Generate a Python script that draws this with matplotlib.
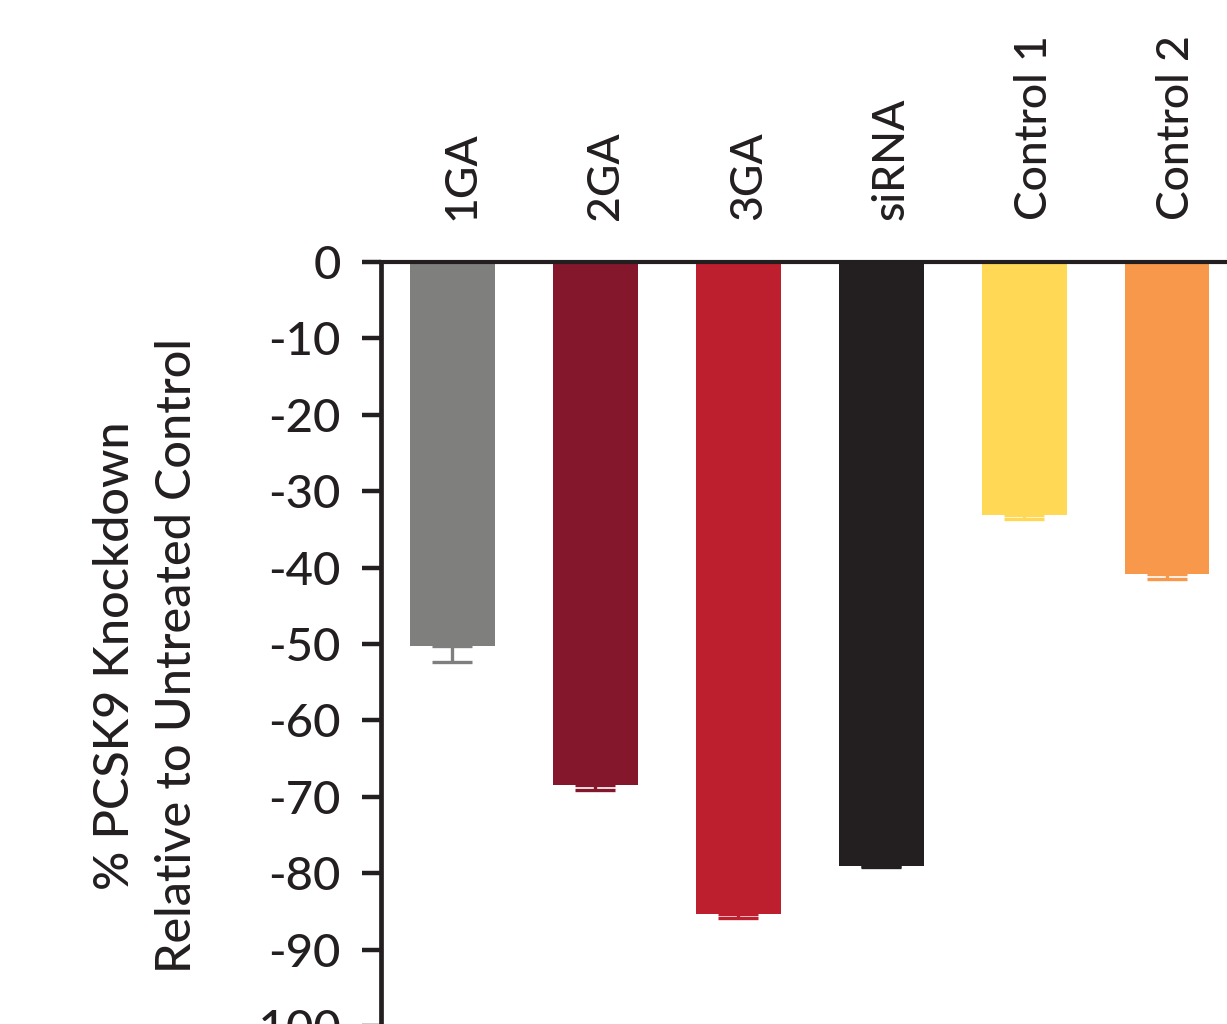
import matplotlib
matplotlib.use("Agg")
import matplotlib.pyplot as plt
import matplotlib.transforms as mtransforms

plt.rcParams["font.family"] = ["Lato", "DejaVu Sans"]

categories = ["1GA", "2GA", "3GA", "siRNA", "Control 1", "Control 2"]
knockdown = [-50.3, -68.5, -85.3, -79.1, -33.1, -40.8]
sem = [2.0, 0.6, 0.5, 0.1, 0.6, 0.7]
colors = ["#7f807e", "#85172d", "#be1f2e", "#231f20", "#ffd956", "#f7984a"]
yticks = [0, -10, -20, -30, -40, -50, -60, -70, -80, -90, -100]

fig = plt.figure(figsize=(12.27, 10.24), dpi=100)
ax = fig.add_axes([381 / 1227, 1 - 1026 / 1024, 1 - 381 / 1227, 764 / 1024])

x = list(range(len(categories)))
ax.bar(x, knockdown, width=0.594, color=colors, zorder=2)
for xi, v, e, c in zip(x, knockdown, sem, colors):
    ax.errorbar(xi, v, yerr=[[e], [0]], fmt="none", ecolor=c,
                elinewidth=2.4, capsize=14.5, capthick=2.4, zorder=1)

ax.set_xlim(-0.5, 5.42)
ax.set_ylim(-100, 0)
ax.set_yticks(yticks)
ax.set_yticklabels([str(t) for t in yticks], fontsize=34, fontweight="medium")
ax.tick_params(axis="y", length=14, width=3.2, pad=15, color="#231f20",
               labelcolor="#231f20")
ax.set_xticks([])

for side in ["right", "bottom"]:
    ax.spines[side].set_visible(False)
ax.spines["left"].set_linewidth(3.4)
ax.spines["left"].set_color("#231f20")
ax.spines["top"].set_linewidth(3.0)
ax.spines["top"].set_color("#231f20")
ax.spines["top"].set_position(("data", 0))
ax.spines["top"].set_zorder(3)

# category names above the zero line
offset = mtransforms.ScaledTranslation(10 / 100, 42 / 100, fig.dpi_scale_trans)
trans = mtransforms.blended_transform_factory(ax.transData, ax.transAxes) + offset
for xi, name in zip(x, categories):
    ax.text(xi, 1.0, name, transform=trans, rotation=90, ha="center",
            va="bottom", fontsize=32, fontweight="medium", color="#231f20")

fig.text(115 / 1227, 1 - 656 / 1024, "% PCSK9 Knockdown", rotation=90,
         ha="center", va="center", fontsize=35, fontweight="medium",
         color="#231f20")
fig.text(177 / 1227, 1 - 656 / 1024, "Relative to Untreated Control", rotation=90,
         ha="center", va="center", fontsize=35, fontweight="medium",
         color="#231f20")

fig.savefig("out.png", dpi=100)
